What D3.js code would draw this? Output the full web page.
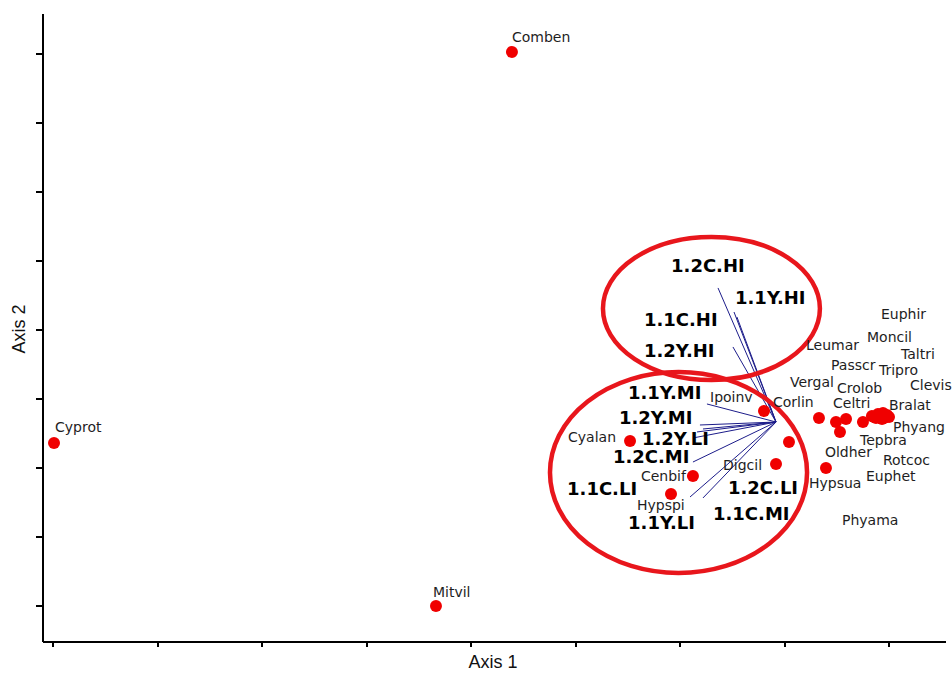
<!DOCTYPE html>
<html>
<head>
<meta charset="utf-8">
<script src="https://cdn.jsdelivr.net/npm/d3@7"></script>
<style>
  html, body { margin: 0; padding: 0; background: #fff; }
  svg { display: block; }
  .axis path, .axis line { stroke: #000; stroke-width: 2; shape-rendering: crispEdges; }
</style>
</head>
<body>
<svg id="chart" width="952" height="673"></svg>
<script>
// Species scores on the two ordination axes
const speciesNames = ["Comben","Cyprot","Mitvil","Cyalan","Cenbif","Hypspi","Ipoinv","Corlin","Digcil","Hypsua",
  "Vergal","Celtri","Crolob","Tepbra","Oldher","Bralat","Phyang","Leumar","Passcr","Tripro",
  "Taltri","Moncil","Euphir","Clevis","Rotcoc","Euphet","Phyama"];
const speciesAxis1 = [0.392,-3.990,-0.335,1.522,2.124,1.914,2.804,3.043,2.919,3.397,
  3.330,3.493,3.589,3.531,3.751,3.837,3.895,3.943,3.981,4.000,
  3.952,3.876,3.914,3.962,3.856,3.933,3.895];
const speciesAxis2 = [4.016,-1.643,-4.001,-1.614,-2.120,-2.381,-1.179,-1.628,-1.946,-2.004,
  -1.281,-1.339,-1.296,-1.483,-1.339,-1.252,-1.223,-1.208,-1.237,-1.266,
  -1.281,-1.281,-1.237,-1.252,-1.266,-1.295,-1.266];

// Environmental vectors (tip scores), drawn from the vector centroid
const vectorNames = ["1.2C.HI","1.1Y.HI","1.1C.HI","1.2Y.HI","1.1Y.MI","1.2Y.MI","1.1C.LI","1.2C.LI",
  "1.2Y.LI","1.2C.MI","1.1Y.LI","1.1C.MI"];
const vectorAxis1 = [2.364,2.517,2.545,2.507,2.258,2.191,2.163,2.220,2.124,2.124,2.096,2.220];
const vectorAxis2 = [0.601,0.253,0.181,-0.253,-1.078,-1.382,-1.483,-1.440,-1.570,-1.918,-2.424,-2.438];
const vectorOrigin = [2.919, -1.339];

// Group outlines (centre and half-widths in axis units)
const groupCentre1 = [2.301, 1.986];
const groupCentre2 = [0.304, -2.069];
const groupRadius1 = [1.038, 1.230];
const groupRadius2 = [1.035, 1.454];

// Axis tick positions (unlabelled)
const tickValues = [-4,-3,-2,-1,0,1,2,3,4];
const axisTitles = ["Axis 1", "Axis 2"];

// Label nudges in pixels from each mark (layout only)
const speciesLabelNudge = {
  Comben:[0,-10], Cyprot:[1,-11], Mitvil:[-3,-9], Cyalan:[-62,1], Cenbif:[-52,5], Hypspi:[-34,16],
  Ipoinv:[-54,-9], Corlin:[-16,-35], Digcil:[-53,6], Hypsua:[-17,20], Vergal:[-29,-31], Celtri:[-3,-14],
  Crolob:[-9,-26], Tepbra:[20,13], Oldher:[-38,35], Bralat:[17,-6], Phyang:[15,18], Leumar:[-77,-63],
  Passcr:[-56,-45], Tripro:[-10,-42], Taltri:[17,-59], Moncil:[-9,-76], Euphir:[1,-96], Clevis:[25,-26],
  Rotcoc:[9,48], Euphet:[-16,62], Phyama:[-36,108]
};
const vectorLabelNudge = {
  "1.2C.HI":[-47,-16], "1.1Y.HI":[1,-8], "1.1C.HI":[-93,9], "1.2Y.HI":[-89,10],
  "1.1Y.MI":[-79,-5], "1.2Y.MI":[-81,-1], "1.2Y.LI":[-51,7], "1.2C.MI":[-80,1],
  "1.1C.LI":[-130,63], "1.2C.LI":[25,65], "1.1Y.LI":[-62,32], "1.1C.MI":[10,22]
};

const svg = d3.select("#chart");

const x = d3.scaleLinear().domain([-4.105, 4.536]).range([42, 945]);
const y = d3.scaleLinear().domain([-4.508, 4.58]).range([641, 13]);

// Axes
svg.append("g").attr("class", "axis")
  .attr("transform", `translate(0,${y.range()[0]})`)
  .call(d3.axisBottom(x).tickValues(tickValues).tickFormat("").tickSize(6).tickSizeOuter(0));
svg.append("g").attr("class", "axis")
  .attr("transform", `translate(${x.range()[0]},0)`)
  .call(d3.axisLeft(y).tickValues(tickValues).tickFormat("").tickSize(6).tickSizeOuter(0));

svg.append("text")
  .attr("x", 493).attr("y", 668)
  .attr("text-anchor", "middle")
  .style("font-family", "'Liberation Sans', Arial, sans-serif")
  .style("font-size", "18px").attr("fill", "#111")
  .text(axisTitles[0]);
svg.append("text")
  .attr("transform", "translate(25,329) rotate(-90)")
  .attr("text-anchor", "middle")
  .style("font-family", "'Liberation Sans', Arial, sans-serif")
  .style("font-size", "18px").attr("fill", "#111")
  .text(axisTitles[1]);

// Vectors
const vectors = vectorNames.map((n, i) => ({ name: n, a1: vectorAxis1[i], a2: vectorAxis2[i] }));
svg.append("g").selectAll("line").data(vectors).join("line")
  .attr("x1", x(vectorOrigin[0])).attr("y1", y(vectorOrigin[1]))
  .attr("x2", d => x(d.a1)).attr("y2", d => y(d.a2))
  .attr("stroke", "#1c1c8a").attr("stroke-width", 1);

// Group outlines
svg.append("g").selectAll("ellipse").data([0, 1]).join("ellipse")
  .attr("cx", i => x(groupCentre1[i]))
  .attr("cy", i => y(groupCentre2[i]))
  .attr("rx", i => x(groupCentre1[i] + groupRadius1[i]) - x(groupCentre1[i]))
  .attr("ry", i => y(groupCentre2[i]) - y(groupCentre2[i] + groupRadius2[i]))
  .attr("fill", "none").attr("stroke", "#e8161c").attr("stroke-width", 4.5);

// Species points
const species = speciesNames.map((n, i) => ({ name: n, a1: speciesAxis1[i], a2: speciesAxis2[i] }));
svg.append("g").selectAll("circle").data(species).join("circle")
  .attr("cx", d => x(d.a1)).attr("cy", d => y(d.a2)).attr("r", 6)
  .attr("fill", "#f00000");

// Species labels
svg.append("g").selectAll("text").data(species).join("text")
  .attr("x", d => x(d.a1) + speciesLabelNudge[d.name][0])
  .attr("y", d => y(d.a2) + speciesLabelNudge[d.name][1])
  .style("font-family", "'DejaVu Sans', sans-serif")
  .style("font-size", "14px").attr("fill", "#1e1e1e")
  .text(d => d.name);

// Vector labels
svg.append("g").selectAll("text").data(vectors).join("text")
  .attr("x", d => x(d.a1) + vectorLabelNudge[d.name][0])
  .attr("y", d => y(d.a2) + vectorLabelNudge[d.name][1])
  .style("font-family", "'DejaVu Sans', sans-serif")
  .style("font-size", "18px").style("font-weight", "bold").attr("fill", "#000")
  .text(d => d.name);
</script>
</body>
</html>
